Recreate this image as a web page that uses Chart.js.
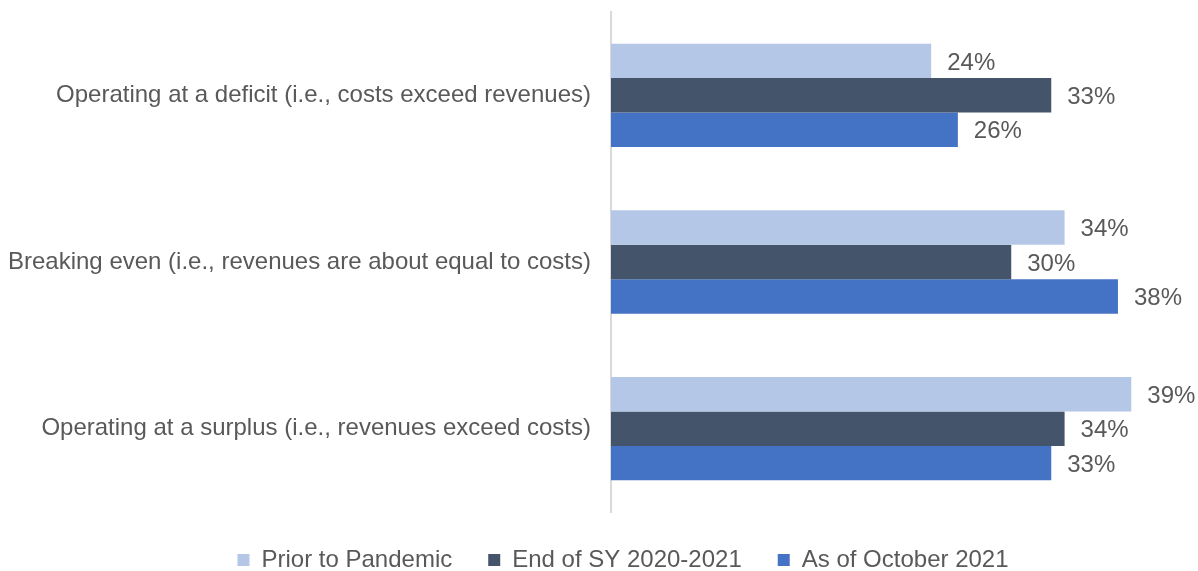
<!DOCTYPE html>
<html>
<head>
<meta charset="utf-8">
<script src="https://cdn.jsdelivr.net/npm/chart.js@4/dist/chart.umd.min.js"></script>
<style>
  html, body { margin: 0; padding: 0; background: #fff; }
  #wrap { width: 1198px; height: 571px; }
</style>
</head>
<body>
<div id="wrap"><canvas id="chart"></canvas></div>
<script>
const categories = [
  'Operating at a deficit (i.e., costs exceed revenues)',
  'Breaking even (i.e., revenues are about equal to costs)',
  'Operating at a surplus (i.e., revenues exceed costs)'
];
const seriesNames = ['Prior to Pandemic', 'End of SY 2020-2021', 'As of October 2021'];
const priorToPandemic = [24, 34, 39];
const endOfSY = [33, 30, 34];
const asOfOctober = [26, 38, 33];

const colors = ['#B4C7E7', '#44546A', '#4472C4'];
const FONT = '"Liberation Sans", Arial, sans-serif';

// draw the "xx%" text right of each bar
const barLabels = {
  id: 'barLabels',
  afterDatasetsDraw(chart) {
    const ctx = chart.ctx;
    ctx.save();
    ctx.font = '24px ' + FONT;
    ctx.fillStyle = '#595959';
    ctx.textAlign = 'left';
    ctx.textBaseline = 'middle';
    chart.data.datasets.forEach((ds, i) => {
      chart.getDatasetMeta(i).data.forEach((bar, j) => {
        ctx.fillText(ds.data[j] + '%', bar.x + 16, bar.y + 2);
      });
    });
    ctx.restore();
  }
};

// nudge the legend a bit right, like the original
const legendShift = {
  id: 'legendShift',
  afterLayout(chart) {
    if (chart.legend) {
      chart.legend.left += 24;
      chart.legend.right += 24;
    }
  }
};

new Chart(document.getElementById('chart'), {
  type: 'bar',
  data: {
    labels: categories,
    datasets: [
      { label: seriesNames[0], data: priorToPandemic, backgroundColor: colors[0] },
      { label: seriesNames[1], data: endOfSY, backgroundColor: colors[1] },
      { label: seriesNames[2], data: asOfOctober, backgroundColor: colors[2] }
    ]
  },
  options: {
    indexAxis: 'y',
    responsive: true,
    maintainAspectRatio: false,
    animation: false,
    layout: { padding: { top: 12, right: 0, bottom: 0, left: 0 } },
    datasets: {
      bar: { barPercentage: 1, categoryPercentage: 0.62 }
    },
    plugins: {
      legend: {
        position: 'bottom',
        maxHeight: 59,
        labels: {
          boxWidth: 12,
          boxHeight: 12,
          padding: 36,
          color: '#595959',
          font: { family: FONT, size: 24 }
        }
      },
      tooltip: { enabled: false }
    },
    scales: {
      x: {
        min: 0,
        max: 44,
        display: false
      },
      y: {
        grid: { display: false },
        border: { color: '#D9D9D9', width: 2 },
        ticks: {
          padding: 12,
          color: '#595959',
          font: { family: FONT, size: 24 }
        },
        afterFit: (scale) => {
          scale.width = 611;
          scale.paddingTop = 0;
          scale.paddingBottom = 0;
        }
      }
    }
  },
  plugins: [barLabels, legendShift]
});
</script>
</body>
</html>
